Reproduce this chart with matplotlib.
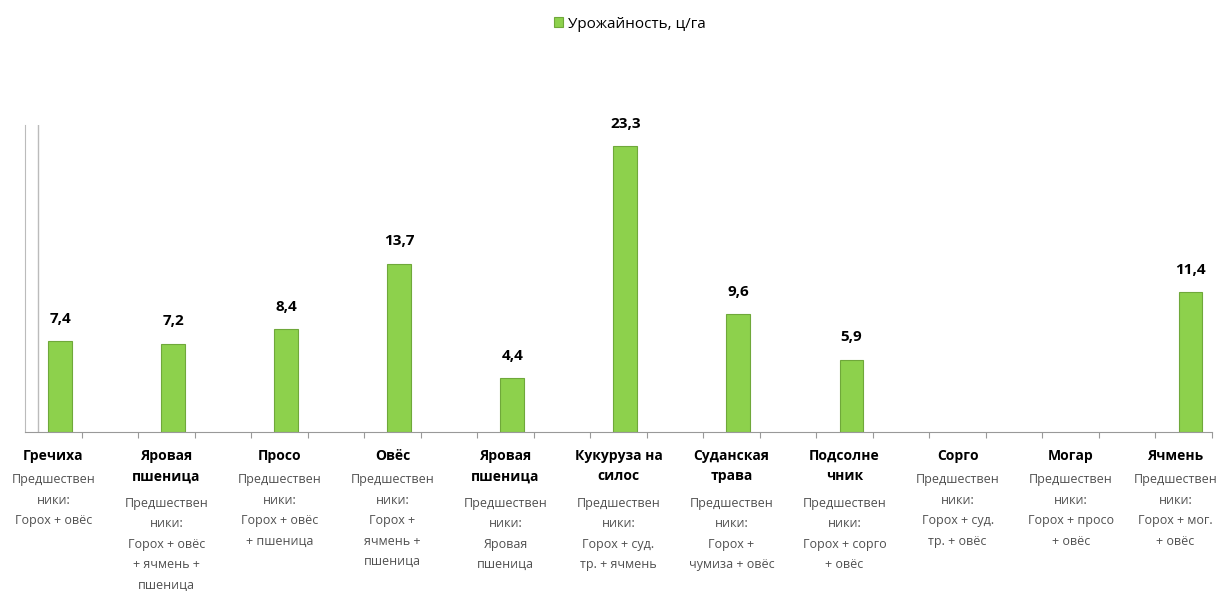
"""Bar chart of crop yields with predecessor notes under each crop"""
import numpy as np
import matplotlib.pyplot as plt

plt.rcParams['font.family'] = ['Open Sans', 'DejaVu Sans']

crops = ['Гречиха', 'Яровая\nпшеница', 'Просо', 'Овёс', 'Яровая\nпшеница',
         'Кукуруза на\nсилос', 'Суданская\nтрава', 'Подсолне\nчник', 'Сорго',
         'Могар', 'Ячмень']
predecessors = [
    'Предшествен\nники:\nГорох + овёс',
    'Предшествен\nники:\nГорох + овёс\n+ ячмень +\nпшеница',
    'Предшествен\nники:\nГорох + овёс\n+ пшеница',
    'Предшествен\nники:\nГорох +\nячмень +\nпшеница',
    'Предшествен\nники:\nЯровая\nпшеница',
    'Предшествен\nники:\nГорох + суд.\nтр. + ячмень',
    'Предшествен\nники:\nГорох +\nчумиза + овёс',
    'Предшествен\nники:\nГорох + сорго\n+ овёс',
    'Предшествен\nники:\nГорох + суд.\nтр. + овёс',
    'Предшествен\nники:\nГорох + просо\n+ овёс',
    'Предшествен\nники:\nГорох + мог.\n+ овёс',
]
yields = [7.4, 7.2, 8.4, 13.7, 4.4, 23.3, 9.6, 5.9, np.nan, np.nan, 11.4]
series_name = 'Урожайность, ц/га'

green = '#8dd14c'
edge = '#6fa83a'

fig = plt.figure(figsize=(12.23, 5.91), dpi=100)
ax = fig.add_axes([25 / 1223, 159 / 591, 1187 / 1223, 307 / 591])

# every crop takes two slots on the category axis, the bar sits in the first
slot = np.arange(len(crops)) * 2 + 0.5
bar_x = slot + 0.12
bars = ax.bar(bar_x, yields, width=0.42, color=green, edgecolor=edge,
              linewidth=0.8, label=series_name)

for x, v in zip(bar_x, yields):
    if np.isnan(v):
        continue
    ax.annotate('{0:.1f}'.format(v).replace('.', ','), (x, v),
                xytext=(0, 11), textcoords='offset points',
                ha='center', va='bottom', fontsize=11, fontweight='bold')

for i, (x, name, note) in enumerate(zip(slot, crops, predecessors)):
    n_bold = name.count('\n') + 1
    # keep the last column inside the figure
    dx = -6 if i == len(crops) - 1 else 0
    ax.annotate(name, (x, 0), xycoords=('data', 'axes fraction'),
                xytext=(dx, -12), textcoords='offset points',
                ha='center', va='top', fontsize=10, fontweight='bold',
                linespacing=1.6, annotation_clip=False)
    ax.annotate(note, (x, 0), xycoords=('data', 'axes fraction'),
                xytext=(dx, -13 - 16.8 * n_bold), textcoords='offset points',
                ha='center', va='top', fontsize=9, color='#505050',
                linespacing=1.75, annotation_clip=False)

ax.set_xlim(0, 21)
ax.set_ylim(0, 25)
ax.set_xticks(np.arange(1, 22))
ax.set_xticklabels([])
ax.set_yticks([])
ax.tick_params(axis='x', length=4, color='#999999', direction='out')
for s in ['top', 'right']:
    ax.spines[s].set_visible(False)
ax.spines['bottom'].set_color('#999999')
ax.spines['left'].set_color('#bbbbbb')
ax.axvline(0.23, color='#bbbbbb', linewidth=1)

fig.legend(handles=[bars], loc='upper center', bbox_to_anchor=(0.515, 0.995),
           frameon=False, fontsize=11, handlelength=0.6, handleheight=0.6,
           handletextpad=0.3)

plt.savefig('out.png')
